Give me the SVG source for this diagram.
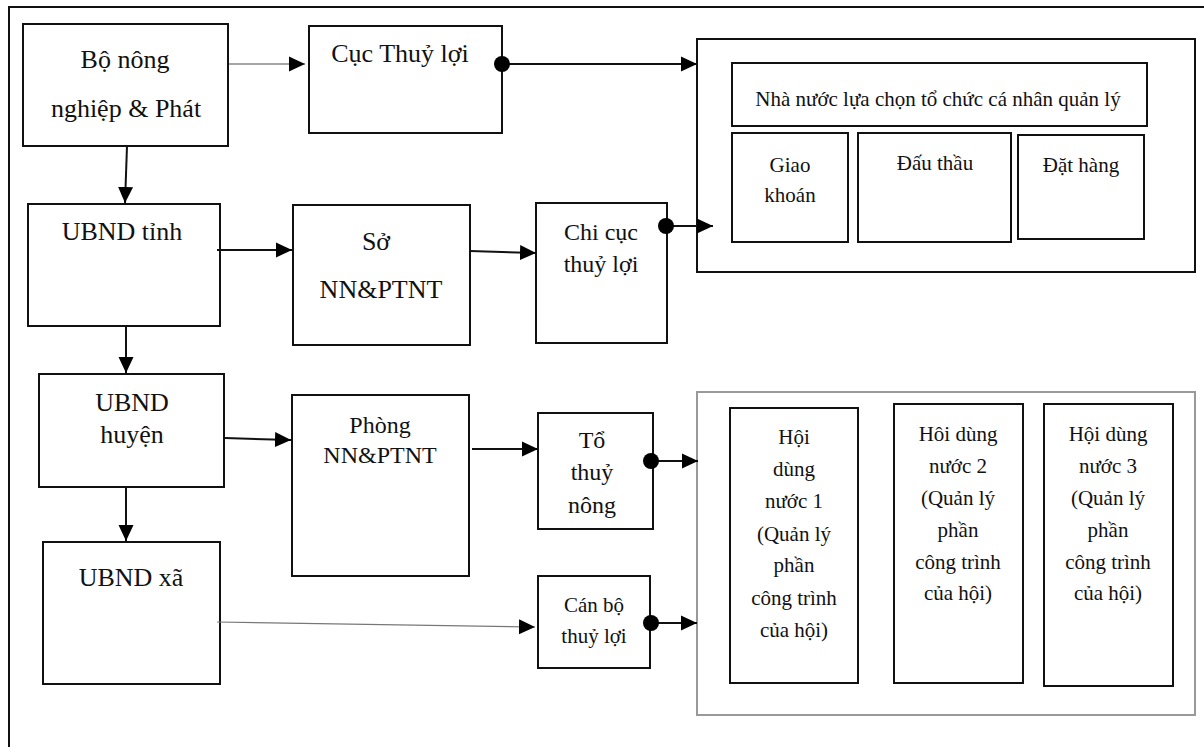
<svg xmlns="http://www.w3.org/2000/svg" width="1204" height="747" viewBox="0 0 1204 747" font-family="'Liberation Serif', 'Times New Roman', 'DejaVu Serif', serif">
<defs>
<marker id="ah" markerUnits="userSpaceOnUse" markerWidth="16" markerHeight="16" viewBox="0 0 16 16" refX="16" refY="8" orient="auto">
<path d="M0,0.5 L16,8 L0,15.5 Z" fill="#000"/>
</marker>
<style>
.b{fill:#fff;stroke:#111;stroke-width:2}
.gray{fill:#fff;stroke:#999;stroke-width:2}
.frame{fill:none;stroke:#111;stroke-width:2}
.t{font-family:'Liberation Serif','Times New Roman','DejaVu Serif',serif;fill:#111;text-anchor:middle}
.f26{font-size:26px}
.f24{font-size:24px}
.f21{font-size:21px}
.c{stroke:#111;stroke-width:2;fill:none}
.cg{stroke:#888;stroke-width:1.5;fill:none}
.ct{stroke:#777;stroke-width:1.2;fill:none}
.dot{fill:#000}
</style>
</defs>
<rect x="0" y="0" width="1204" height="747" style="fill:#fff;stroke:none"/>
<rect class="frame" x="9" y="7" width="1300" height="800"/>

<g id="bo"><rect class="b" x="23" y="24" width="205" height="122"/>
<text class="t f26" x="125" y="68">Bộ nông</text>
<text class="t f26" x="126" y="117">nghiệp &amp; Phát</text></g>

<g id="cuc"><rect class="b" x="309" y="26" width="193" height="107"/>
<text class="t f26" x="400" y="62">Cục Thuỷ lợi</text></g>

<g id="qlbox"><rect class="b" x="697" y="39" width="498" height="233"/></g>
<g id="nhanuoc"><rect class="b" x="732" y="63" width="415" height="63"/>
<text class="t f21" x="938" y="106">Nhà nước lựa chọn tổ chức cá nhân quản lý</text></g>
<g id="giaokhoan"><rect class="b" x="732" y="133" width="116" height="109"/>
<text class="t f21" x="790" y="172">Giao</text>
<text class="t f21" x="790" y="202">khoán</text></g>
<g id="dauthau"><rect class="b" x="858" y="133" width="153" height="109"/>
<text class="t f21" x="935" y="170">Đấu thầu</text></g>
<g id="dathang"><rect class="b" x="1018" y="135" width="126" height="104"/>
<text class="t f21" x="1081" y="172">Đặt hàng</text></g>

<g id="tinh"><rect class="b" x="28" y="204" width="192" height="122"/>
<text class="t f26" x="122" y="240">UBND tỉnh</text></g>
<g id="so"><rect class="b" x="293" y="205" width="177" height="140"/>
<text class="t f26" x="376" y="250">Sở</text>
<text class="t f26" x="381" y="298">NN&amp;PTNT</text></g>
<g id="chicuc"><rect class="b" x="536" y="203" width="131" height="140"/>
<text class="t f24" x="601" y="240">Chi cục</text>
<text class="t f24" x="601" y="272">thuỷ lợi</text></g>

<g id="huyen"><rect class="b" x="39" y="374" width="185" height="113"/>
<text class="t f26" x="132" y="411">UBND</text>
<text class="t f26" x="132" y="443">huyện</text></g>
<g id="phong"><rect class="b" x="292" y="395" width="177" height="181"/>
<text class="t f24" x="380" y="433">Phòng</text>
<text class="t f24" x="380" y="463">NN&amp;PTNT</text></g>
<g id="tothuynong"><rect class="b" x="538" y="413" width="115" height="116"/>
<text class="t f24" x="592" y="448">Tổ</text>
<text class="t f24" x="592" y="480">thuỷ</text>
<text class="t f24" x="592" y="513">nông</text></g>

<g id="xa"><rect class="b" x="43" y="542" width="177" height="142"/>
<text class="t f26" x="131" y="586">UBND xã</text></g>
<g id="canbo"><rect class="b" x="538" y="576" width="112" height="92"/>
<text class="t f21" x="594" y="612">Cán bộ</text>
<text class="t f21" x="594" y="643">thuỷ lợi</text></g>

<g id="hoibox"><rect class="gray" x="697" y="392" width="498" height="323"/></g>
<g id="hoi1"><rect class="b" x="730" y="408" width="128" height="275"/>
<text class="t f21" x="794" y="444">Hội</text>
<text class="t f21" x="794" y="476">dùng</text>
<text class="t f21" x="794" y="508">nước 1</text>
<text class="t f21" x="794" y="541">(Quản lý</text>
<text class="t f21" x="794" y="572">phần</text>
<text class="t f21" x="794" y="605">công trình</text>
<text class="t f21" x="794" y="637">của hội)</text></g>
<g id="hoi2"><rect class="b" x="894" y="404" width="129" height="279"/>
<text class="t f21" x="958" y="441">Hôi dùng</text>
<text class="t f21" x="958" y="473">nước 2</text>
<text class="t f21" x="958" y="505">(Quản lý</text>
<text class="t f21" x="958" y="537">phần</text>
<text class="t f21" x="958" y="569">công trình</text>
<text class="t f21" x="958" y="600">của hội)</text></g>
<g id="hoi3"><rect class="b" x="1044" y="404" width="129" height="282"/>
<text class="t f21" x="1108" y="441">Hội dùng</text>
<text class="t f21" x="1108" y="473">nước 3</text>
<text class="t f21" x="1108" y="505">(Quản lý</text>
<text class="t f21" x="1108" y="537">phần</text>
<text class="t f21" x="1108" y="569">công trình</text>
<text class="t f21" x="1108" y="600">của hội)</text></g>

<g id="connectors">
<line class="cg" x1="229" y1="64" x2="305" y2="64" marker-end="url(#ah)"/>
<line class="c" x1="502" y1="64" x2="697" y2="64" marker-end="url(#ah)"/>
<circle class="dot" cx="502" cy="64" r="8"/>
<line class="c" x1="127" y1="146" x2="125" y2="203" marker-end="url(#ah)"/>
<line class="c" x1="217" y1="250" x2="292" y2="250" marker-end="url(#ah)"/>
<line class="c" x1="470" y1="251" x2="536" y2="253" marker-end="url(#ah)"/>
<line class="c" x1="666" y1="226" x2="713" y2="226" marker-end="url(#ah)"/>
<circle class="dot" cx="666" cy="226" r="8"/>
<line class="c" x1="126" y1="326" x2="126" y2="373" marker-end="url(#ah)"/>
<line class="c" x1="225" y1="438" x2="291" y2="440" marker-end="url(#ah)"/>
<line class="c" x1="472" y1="449" x2="538" y2="449" marker-end="url(#ah)"/>
<line class="c" x1="651" y1="461" x2="698" y2="461" marker-end="url(#ah)"/>
<circle class="dot" cx="651" cy="461" r="8"/>
<line class="c" x1="126" y1="487" x2="126" y2="541" marker-end="url(#ah)"/>
<line class="ct" x1="217" y1="622" x2="535" y2="627" marker-end="url(#ah)"/>
<line class="c" x1="651" y1="623" x2="697" y2="623" marker-end="url(#ah)"/>
<circle class="dot" cx="651" cy="623" r="8"/>
</g>
</svg>
